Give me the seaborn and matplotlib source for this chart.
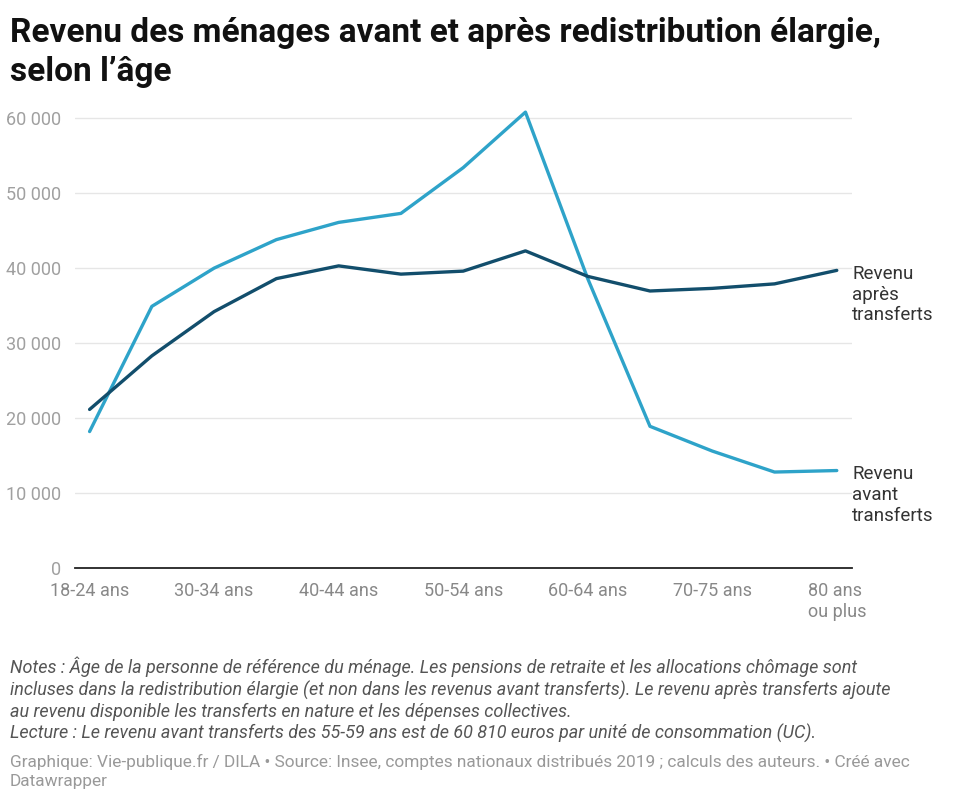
import pandas as pd
import seaborn as sns
import matplotlib.pyplot as plt
from matplotlib.ticker import FuncFormatter

sns.set_style("white")
plt.rcParams['font.family'] = ['Roboto', 'DejaVu Sans']

# data
ages = ["18-24 ans", "25-29 ans", "30-34 ans", "35-39 ans", "40-44 ans", "45-49 ans",
        "50-54 ans", "55-59 ans", "60-64 ans", "65-69 ans", "70-75 ans", "75-79 ans",
        "80 ans\nou plus"]
avant = [18200, 34900, 40000, 43800, 46100, 47300, 53400, 60810, 38600, 18900, 15600, 12800, 13000]
apres = [21150, 28300, 34200, 38600, 40300, 39200, 39600, 42300, 38900, 36950, 37300, 37900, 39700]
yticks = [0, 10000, 20000, 30000, 40000, 50000, 60000]

df = pd.DataFrame({"age": ages, "pos": range(len(ages)), "avant": avant, "apres": apres})
dl = df.melt(id_vars=["age", "pos"], value_vars=["avant", "apres"], var_name="serie", value_name="revenu")

light = "#2ea3c9"
dark = "#124e6c"

fig = plt.figure(figsize=(9.57, 8), dpi=100)
ax = fig.add_axes([0.078, 0.29, 0.812, 0.581])
sns.lineplot(data=dl, x="pos", y="revenu", hue="serie", palette={"avant": light, "apres": dark},
             linewidth=2.4, legend=False, ax=ax)

ax.set_xlim(-0.24, 12.24)
ax.set_ylim(0, 62000)
ax.set_yticks(yticks)
ax.yaxis.set_major_formatter(FuncFormatter(lambda v, p: f"{int(v):,}".replace(",", " ")))
ax.set_xticks(df["pos"][::2])
ax.set_xticklabels(df["age"][::2])
ax.grid(axis="y", color="#e6e6e6", linewidth=1)
ax.set_axisbelow(True)
for s in ["top", "right", "left"]:
    ax.spines[s].set_visible(False)
ax.spines["bottom"].set_color("#222222")
ax.spines["bottom"].set_linewidth(1.3)
ax.tick_params(axis="y", length=0, pad=10, labelsize=13, labelcolor="#a0a0a0")
ax.tick_params(axis="x", length=0, pad=10, labelsize=13, labelcolor="#888888")
for lab in ax.get_xticklabels():
    lab.set_multialignment("left")
ax.set_xlabel("")
ax.set_ylabel("")

# direct labels at the line ends
ax.annotate("Revenu\naprès\ntransferts", xy=(12, apres[-1]), xytext=(11, 4),
            textcoords="offset points", ha="left", va="top", fontsize=13.5,
            color="#333333", linespacing=1.2, annotation_clip=False)
ax.annotate("Revenu\navant\ntransferts", xy=(12, avant[-1]), xytext=(11, 4),
            textcoords="offset points", ha="left", va="top", fontsize=13.5,
            color="#333333", linespacing=1.2, annotation_clip=False)

fig.text(0.0105, 0.979, "Revenu des ménages avant et après redistribution élargie,\nselon l’âge",
         ha="left", va="top", fontsize=24, fontweight="bold", color="#111111", linespacing=1.3)

notes = ("Notes : Âge de la personne de référence du ménage. Les pensions de retraite et les allocations chômage sont\n"
         "incluses dans la redistribution élargie (et non dans les revenus avant transferts). Le revenu après transferts ajoute\n"
         "au revenu disponible les transferts en nature et les dépenses collectives.\n"
         "Lecture : Le revenu avant transferts des 55-59 ans est de 60 810 euros par unité de consommation (UC).")
fig.text(0.0105, 0.179, notes, ha="left", va="top", fontsize=13, style="italic",
         color="#555555", linespacing=1.22)
fig.text(0.0105, 0.058, "Graphique: Vie-publique.fr / DILA • Source: Insee, comptes nationaux distribués 2019 ; calculs des auteurs. • Créé avec\nDatawrapper",
         ha="left", va="top", fontsize=12.4, color="#999999", linespacing=1.35)

fig.savefig("out.png", dpi=100)
